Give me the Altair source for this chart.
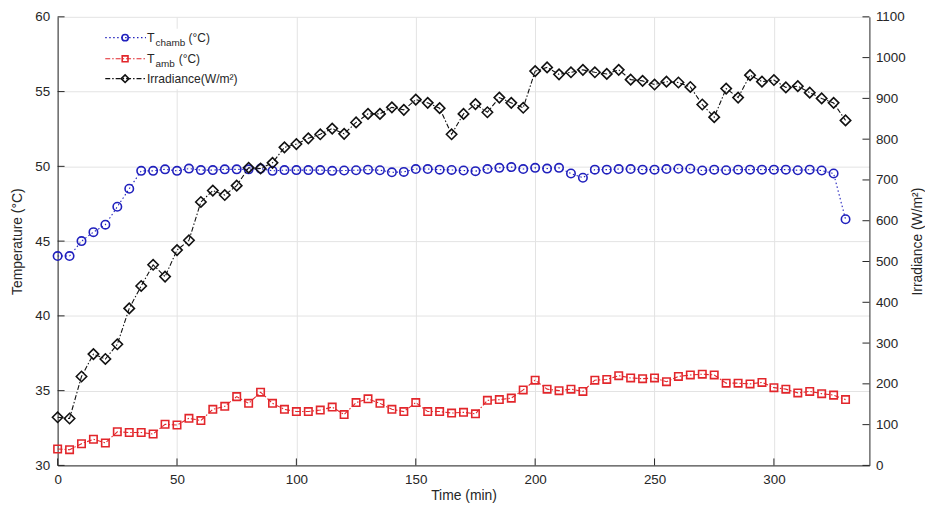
import altair as alt
import pandas as pd

TIME = [0, 5, 10, 15, 20, 25, 30, 35, 40, 45, 50, 55, 60, 65, 70, 75, 80, 85, 90, 95,
        100, 105, 110, 115, 120, 125, 130, 135, 140, 145, 150, 155, 160, 165, 170, 175,
        180, 185, 190, 195, 200, 205, 210, 215, 220, 225, 230, 235, 240, 245, 250, 255,
        260, 265, 270, 275, 280, 285, 290, 295, 300, 305, 310, 315, 320, 325, 330]

T_CHAMB = [44.0, 44.0, 45.0, 45.6, 46.1, 47.3, 48.5, 49.7, 49.7, 49.8, 49.7, 49.85,
           49.75, 49.75, 49.8, 49.8, 49.8, 49.85, 49.7, 49.75, 49.75, 49.75, 49.75, 49.7,
           49.72, 49.74, 49.78, 49.74, 49.6, 49.63, 49.82, 49.82, 49.78, 49.76, 49.72,
           49.68, 49.82, 49.9, 49.95, 49.82, 49.9, 49.85, 49.9, 49.52, 49.24, 49.78,
           49.78, 49.82, 49.82, 49.78, 49.78, 49.82, 49.84, 49.84, 49.72, 49.78, 49.74,
           49.78, 49.78, 49.78, 49.78, 49.78, 49.74, 49.78, 49.72, 49.52, 46.46]

T_AMB = [31.1, 31.05, 31.45, 31.75, 31.5, 32.25, 32.2, 32.2, 32.1, 32.75, 32.7, 33.15,
         33.0, 33.75, 33.95, 34.6, 34.15, 34.9, 34.15, 33.75, 33.6, 33.6, 33.7, 33.9,
         33.4, 34.2, 34.45, 34.15, 33.75, 33.6, 34.2, 33.6, 33.6, 33.5, 33.55, 33.45,
         34.35, 34.4, 34.5, 35.05, 35.7, 35.1, 35.0, 35.1, 34.95, 35.7, 35.75, 36.0,
         35.85, 35.8, 35.85, 35.6, 35.95, 36.05, 36.1, 36.05, 35.5, 35.5, 35.45, 35.55,
         35.2, 35.1, 34.85, 34.95, 34.8, 34.7, 34.4]

IRRADIANCE = [118, 115, 218, 273, 261, 297, 385, 440, 492, 463, 528, 552, 646, 674, 663,
              686, 730, 728, 742, 780, 788, 802, 812, 826, 813, 841, 862, 862, 878, 872,
              897, 889, 876, 812, 862, 886, 866, 902, 889, 877, 967, 976, 959, 964, 970,
              964, 960, 970, 946, 943, 934, 941, 939, 928, 885, 854, 924, 902, 957, 941,
              945, 927, 930, 914, 900, 889, 846]

TIME_TICKS = [0, 50, 100, 150, 200, 250, 300]
TEMP_TICKS = [30, 35, 40, 45, 50, 55, 60]
IRR_TICKS = [0, 100, 200, 300, 400, 500, 600, 700, 800, 900, 1000, 1100]

df = pd.DataFrame({"time": TIME, "tchamb": T_CHAMB, "tamb": T_AMB, "irr": IRRADIANCE})

W, H = 818, 452
BLUE = "#2020bd"
RED = "#e2262b"
BLACK = "#111111"
AX = "#262626"
GRID = "#e3e3e3"
FONT = "Liberation Sans"
DOT = [1.5, 2.5]
DASHDOT = [5, 2, 1.5, 2]

xs = alt.Scale(domain=[0, 340], nice=False, zero=False)
ts = alt.Scale(domain=[30, 60], nice=False, zero=False)
irs = alt.Scale(domain=[0, 1100], nice=False)

x_axis = alt.Axis(values=TIME_TICKS, title="Time (min)", grid=True, gridColor=GRID,
                  ticks=False, tickSize=0, labelPadding=7, titlePadding=3,
                  labelFlush=False, domainColor=AX, format="d")
left_axis = alt.Axis(values=TEMP_TICKS, title="Temperature (°C)", grid=True, gridColor=GRID,
                     ticks=False, tickSize=0, labelPadding=8, titlePadding=10,
                     domainColor=AX, orient="left", format="d")
right_axis = alt.Axis(values=IRR_TICKS, title="Irradiance (W/m²)", grid=False,
                      ticks=False, tickSize=0, labelPadding=6, titlePadding=5,
                      domainColor=AX, orient="right", format="d",
                      titleAngle=270, titleBaseline="top")

base = alt.Chart(df)
X = alt.X("time:Q", scale=xs, axis=x_axis)

chamb_line = base.mark_line(color=BLUE, strokeWidth=1.1, strokeDash=DOT).encode(
    x=X, y=alt.Y("tchamb:Q", scale=ts, axis=left_axis))
chamb_pts = base.mark_point(shape="circle", filled=False, color=BLUE, size=72,
                            strokeWidth=1.6, opacity=1).encode(
    x=X, y=alt.Y("tchamb:Q", scale=ts, axis=left_axis))
amb_line = base.mark_line(color=RED, strokeWidth=1.1, strokeDash=DASHDOT).encode(
    x=X, y=alt.Y("tamb:Q", scale=ts, axis=left_axis))
amb_pts = base.mark_point(shape="square", filled=False, color=RED, size=56,
                          strokeWidth=1.6, opacity=1).encode(
    x=X, y=alt.Y("tamb:Q", scale=ts, axis=left_axis))

# inward tick marks (MATLAB style), drawn through the same scales
left_ticks = alt.Chart(pd.DataFrame({"v": TEMP_TICKS})).mark_rule(color=AX, strokeWidth=1).encode(
    y=alt.Y("v:Q", scale=ts, axis=left_axis), x=alt.value(0), x2=alt.value(7))
bottom_ticks = alt.Chart(pd.DataFrame({"v": TIME_TICKS})).mark_rule(color=AX, strokeWidth=1).encode(
    x=alt.X("v:Q", scale=xs, axis=x_axis), y=alt.value(H - 7), y2=alt.value(H))

temp_layer = alt.layer(chamb_line, chamb_pts, amb_line, amb_pts, left_ticks, bottom_ticks)

irr_line = base.mark_line(color=BLACK, strokeWidth=1.1, strokeDash=DASHDOT).encode(
    x=X, y=alt.Y("irr:Q", scale=irs, axis=right_axis))
irr_pts = base.mark_point(shape="diamond", filled=False, color=BLACK, size=110,
                          strokeWidth=1.6, opacity=1).encode(
    x=X, y=alt.Y("irr:Q", scale=irs, axis=right_axis))
right_ticks = alt.Chart(pd.DataFrame({"v": IRR_TICKS})).mark_rule(color=AX, strokeWidth=1).encode(
    y=alt.Y("v:Q", scale=irs, axis=right_axis), x=alt.value(W - 7), x2=alt.value(W))

# ---- custom legend (subscripted labels) ----
one = alt.Data(values=[{}])
leg = []
leg.append(alt.Chart(one).mark_rect(color="white").encode(
    x=alt.value(45), x2=alt.value(186), y=alt.value(12), y2=alt.value(73)))

entries = [
    (21, BLUE, DOT, "circle", 40),
    (42.3, RED, DASHDOT, "square", 34),
    (62.3, BLACK, DASHDOT, "diamond", 60),
]
for yy, col, dash, shp, sz in entries:
    leg.append(alt.Chart(one).mark_rule(color=col, strokeWidth=1.1, strokeDash=dash).encode(
        x=alt.value(48), x2=alt.value(89), y=alt.value(yy)))
    leg.append(alt.Chart(one).mark_point(shape=shp, filled=False, color=col, size=sz,
                                         strokeWidth=1.6, opacity=1).encode(
        x=alt.value(68), y=alt.value(yy)))


def txt(xv, yv, s, fs):
    return alt.Chart(one).mark_text(align="left", baseline="alphabetic", font=FONT,
                                    fontSize=fs, color=AX).encode(
        x=alt.value(xv), y=alt.value(yv), text=alt.value(s))


leg += [
    txt(90, 25, "T", 12.5), txt(98.7, 29.5, "chamb", 10), txt(132, 25, "(°C)", 12),
    txt(90, 46.5, "T", 12.5), txt(98.7, 51, "amb", 10), txt(122, 46.5, "(°C)", 12),
    txt(90, 66.5, "Irradiance(W/m²)", 12.2),
]

irr_layer = alt.layer(irr_line, irr_pts, right_ticks, *leg)

chart = alt.layer(temp_layer, irr_layer).resolve_scale(y="independent").properties(
    width=W, height=H,
    padding={"left": 50, "top": 7, "right": 56, "bottom": 38},
    autosize=alt.AutoSizeParams(type="none"),
).configure_view(stroke=None).configure_axis(
    labelFont=FONT, titleFont=FONT, labelFontSize=13.5, titleFontSize=14,
    labelColor=AX, titleColor=AX, titleFontWeight="normal",
)

chart.save("out.html", embed_options={"renderer": "svg", "actions": False})
